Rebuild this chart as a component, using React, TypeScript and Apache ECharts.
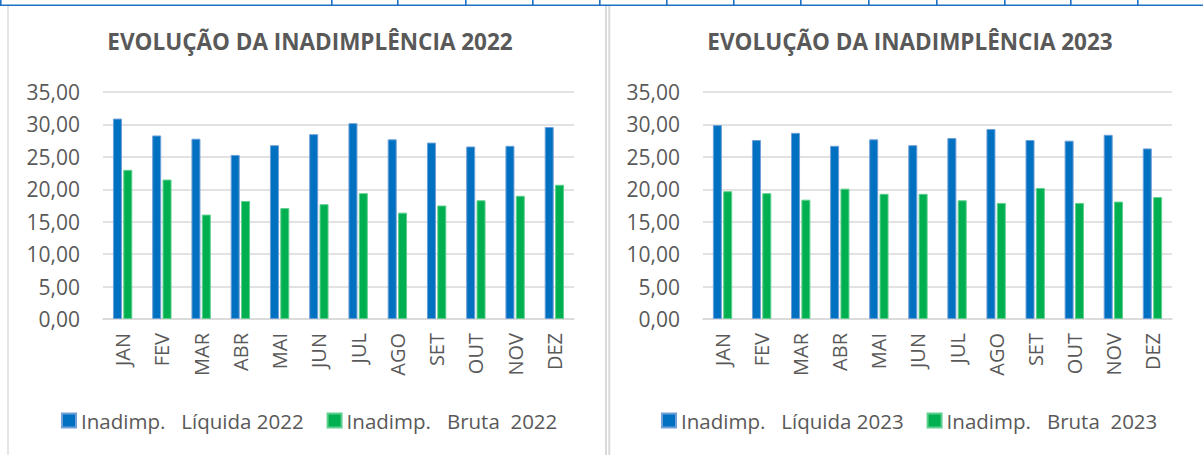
import React, { useEffect, useRef } from "react";
import * as echarts from "echarts";

const MONTHS = ["JAN", "FEV", "MAR", "ABR", "MAI", "JUN", "JUL", "AGO", "SET", "OUT", "NOV", "DEZ"];
const LIQUIDA_2022 = [30.9, 28.3, 27.8, 25.3, 26.8, 28.5, 30.2, 27.7, 27.2, 26.6, 26.7, 29.6];
const BRUTA_2022 = [23.0, 21.5, 16.1, 18.2, 17.1, 17.7, 19.4, 16.4, 17.5, 18.3, 19.0, 20.7];
const LIQUIDA_2023 = [29.9, 27.6, 28.7, 26.7, 27.7, 26.8, 27.9, 29.3, 27.6, 27.5, 28.4, 26.3];
const BRUTA_2023 = [19.7, 19.4, 18.4, 20.1, 19.3, 19.3, 18.3, 17.9, 20.2, 17.9, 18.1, 18.8];
const Y_MIN = 0;
const Y_MAX = 35;
const Y_STEP = 5;

const TITLES = ["EVOLUÇÃO DA INADIMPLÊNCIA 2022", "EVOLUÇÃO DA INADIMPLÊNCIA 2023"];
const NAMES_2022 = ["Inadimp.   Líquida 2022", "Inadimp.   Bruta  2022"];
const NAMES_2023 = ["Inadimp.   Líquida 2023", "Inadimp.   Bruta  2023"];

// decorative spreadsheet cell border ticks along the top edge
const TOP_TICKS = [0, 331, 397, 465, 532, 599, 666, 733, 800, 868, 936, 1004, 1070, 1137];

const FONT = "Open Sans";
const TXT = "#595959";
const GRID_C = "#D9D9D9";
const BLUE = "#0070C0";
const GREEN = "#00B050";

export default function App() {
  const ref = useRef<HTMLDivElement>(null);
  useEffect(() => {
    if (!ref.current) return;
    const chart = echarts.init(ref.current, undefined, { renderer: "svg" });
    const fmt = (v: number) => v.toFixed(2).replace(".", ",");
    const panels = [
      { left: 103, width: 471, titleX: 310, legendX: 61 },
      { left: 703, width: 469, titleX: 910, legendX: 661 },
    ];
    const xAxis = panels.map((_, i) => ({
      type: "category",
      gridIndex: i,
      data: MONTHS,
      axisTick: { show: false },
      axisLine: { lineStyle: { color: GRID_C, width: 1.5 } },
      axisLabel: { rotate: 90, interval: 0, margin: 14, fontFamily: FONT, fontSize: 20, color: TXT },
    }));
    const yAxis = panels.map((_, i) => ({
      type: "value",
      gridIndex: i,
      min: Y_MIN,
      max: Y_MAX,
      interval: Y_STEP,
      axisLine: { show: false },
      axisTick: { show: false },
      splitLine: { lineStyle: { color: GRID_C, width: 1.5 } },
      axisLabel: { formatter: fmt, margin: 23, fontFamily: FONT, fontSize: 21, color: TXT },
    }));
    const mkBar = (name: string, data: number[], idx: number, color: string, border: string) => ({
      type: "bar",
      name,
      data,
      xAxisIndex: idx,
      yAxisIndex: idx,
      barWidth: 9,
      barGap: "15%",
      itemStyle: { color, borderColor: border, borderWidth: 1 },
    });
    const gray = (x: number, w: number) => ({
      type: "rect",
      shape: { x, y: 6, width: w, height: 449 },
      style: { fill: GRID_C },
      silent: true,
    });
    chart.setOption({
      animation: false,
      backgroundColor: "#ffffff",
      title: panels.map((p, i) => ({
        text: TITLES[i],
        left: p.titleX,
        top: 30,
        textAlign: "center",
        padding: 0,
        textStyle: { fontFamily: FONT, fontSize: 22.5, fontWeight: "bold", color: TXT },
      })),
      legend: [NAMES_2022, NAMES_2023].map((names, i) => ({
        data: names,
        left: panels[i].legendX,
        top: 410,
        padding: 0,
        itemWidth: 14,
        itemHeight: 14,
        itemGap: 23,
        icon: "rect",
        selectedMode: false,
        textStyle: { fontFamily: FONT, fontSize: 20.5, color: TXT },
      })),
      grid: panels.map((p) => ({ left: p.left, width: p.width, top: 92, height: 227 })),
      xAxis,
      yAxis,
      series: [
        mkBar(NAMES_2022[0], LIQUIDA_2022, 0, BLUE, "#6E9FD8"),
        mkBar(NAMES_2022[1], BRUTA_2022, 0, GREEN, "#5FCF8E"),
        mkBar(NAMES_2023[0], LIQUIDA_2023, 1, BLUE, "#6E9FD8"),
        mkBar(NAMES_2023[1], BRUTA_2023, 1, GREEN, "#5FCF8E"),
      ],
      graphic: [
        { type: "rect", shape: { x: 0, y: 4.5, width: 1203, height: 1.6 }, style: { fill: "#1F6FC5" }, silent: true },
        ...TOP_TICKS.map((x) => ({
          type: "rect",
          shape: { x, y: 0, width: 1.6, height: 5 },
          style: { fill: "#1F6FC5" },
          silent: true,
        })),
        gray(7.3, 1.4),
        gray(605, 2),
        gray(608.3, 2),
      ],
    });
    return () => chart.dispose();
  }, []);
  return (
    <div
      ref={ref}
      style={{ position: "fixed", left: 0, top: 0, width: 1203, height: 455, background: "#fff" }}
    />
  );
}
